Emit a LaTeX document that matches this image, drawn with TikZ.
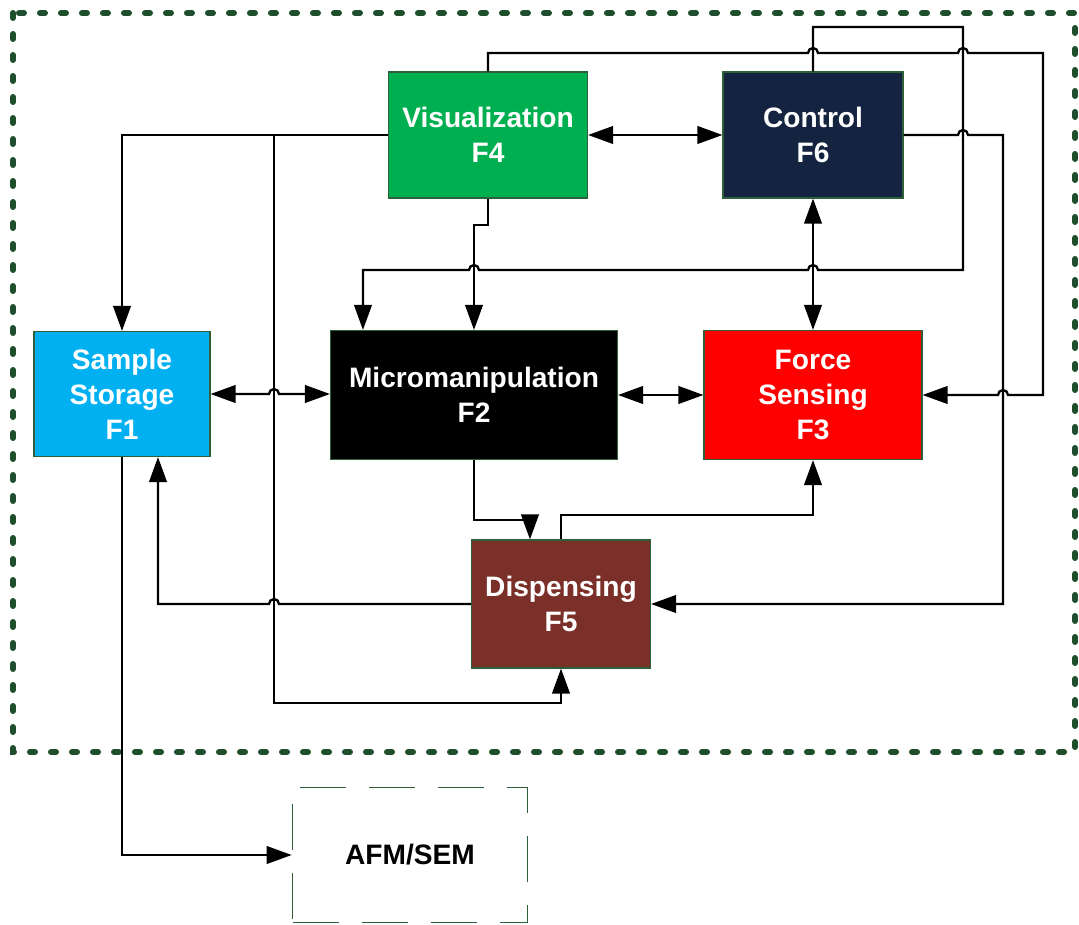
\documentclass[tikz,border=0pt]{standalone}
\usepackage{fontspec}
\setmainfont{Liberation Sans}
\usepackage{tikz}
\usetikzlibrary{arrows.meta,calc}

\definecolor{vizgreen}{HTML}{00B050}
\definecolor{ctrlnavy}{HTML}{14233F}
\definecolor{storecyan}{HTML}{00B0F0}
\definecolor{dispbrown}{HTML}{7A2F28}
\definecolor{framegreen}{HTML}{1F4E2D}
\definecolor{edgegreen}{HTML}{2E5E3A}

\begin{document}
\begin{tikzpicture}[x=0.2mm,y=-0.2mm,
  fbox/.style={draw=edgegreen,line width=0.6pt,inner sep=0pt,text=white,align=center,
    font=\fontsize{16}{20}\selectfont\bfseries},
  link/.style={line width=1.3pt,-{Triangle[length=5mm,width=3.5mm]}},
  both/.style={line width=1.3pt,{Triangle[length=5mm,width=3.5mm]}-{Triangle[length=5mm,width=3.5mm]}}]
\useasboundingbox (0,0) rectangle (1079,925);
% outer frame
\draw[framegreen,line width=1.2mm,line cap=round,dash pattern=on 1mm off 3.2mm] (13,13) rectangle (1075,752);
% function blocks
\node[fbox,fill=vizgreen,minimum width=3.98cm,minimum height=2.52cm] (F4) at (488,135) {Visualization\\F4};
\node[fbox,fill=ctrlnavy,minimum width=3.6cm,minimum height=2.52cm] (F6) at (813,135) {Control\\F6};
\node[fbox,fill=storecyan,minimum width=3.52cm,minimum height=2.5cm] (F1) at (122,394) {Sample\\Storage\\F1};
\node[fbox,fill=black,minimum width=5.74cm,minimum height=2.58cm] (F2) at (474,395) {Micromanipulation\\F2};
\node[fbox,fill=red,minimum width=4.36cm,minimum height=2.58cm] (F3) at (813,395) {Force\\Sensing\\F3};
\node[fbox,fill=dispbrown,minimum width=3.58cm,minimum height=2.56cm] (F5) at (561,604) {Dispensing\\F5};
\node[draw=edgegreen,line width=0.9pt,dash pattern=on 9.2mm off 4.6mm,inner sep=0pt,
  minimum width=4.7cm,minimum height=2.7cm,font=\fontsize{16}{20}\selectfont\bfseries] (AFM) at (410,855) {AFM/SEM};
% F4 <-> F6
\draw[both] (F4.east) -- (F6.west);
% F4 -> F1
\draw[link] (F4.west) -| (F1.north);
% F4 -> F5
\draw[link] (F4.west) -- (274,135) -- (274,703) -| (F5.south);
% F4 -> F2
\draw[link] (F4.south) -- (488,225) -| (F2.north);
% F4 -> F3 over the top
\draw[link] (F4.north) -- (488,53) -- (808,53) arc[start angle=180,end angle=0,radius=1mm]
  -- (958,53) arc[start angle=180,end angle=0,radius=1mm] -- (1043,53) -- (1043,395)
  -- (1008,395) arc[start angle=0,end angle=180,radius=1mm] -- (F3.east);
% F6 -> F2
\draw[link] (F6.north) -- (813,27) -- (963,27) -- (963,270)
  -- (818,270) arc[start angle=0,end angle=180,radius=1mm]
  -- (479,270) arc[start angle=0,end angle=180,radius=1mm] -| ($(F2.north west)+(33,0)$);
% F6 -> F5
\draw[link] (F6.east) -- (958,135) arc[start angle=180,end angle=0,radius=1mm] -- (1003,135) |- (F5.east);
% F6 <-> F3
\draw[both] (F6.south) -- (F3.north);
% F1 <-> F2
\draw[both] (F1.east) -- (269,394) arc[start angle=180,end angle=0,radius=1mm] -- (F2.west |- F1.east);
% F2 <-> F3
\draw[both] (F2.east) -- (F3.west);
% F2 -> F5
\draw[link] (F2.south) -- (474,520) -| ($(F5.north west)+(59,0)$);
% F5 -> F3
\draw[link] (F5.north) -- (561,515) -| (F3.south);
% F5 -> F1
\draw[link] (F5.west) -- (279,604) arc[start angle=0,end angle=180,radius=1mm] -- (158,604) -- ($(F1.south)+(36,0)$);
% F1 -> AFM/SEM
\draw[link] (F1.south) |- (AFM.west);
\end{tikzpicture}
\end{document}
